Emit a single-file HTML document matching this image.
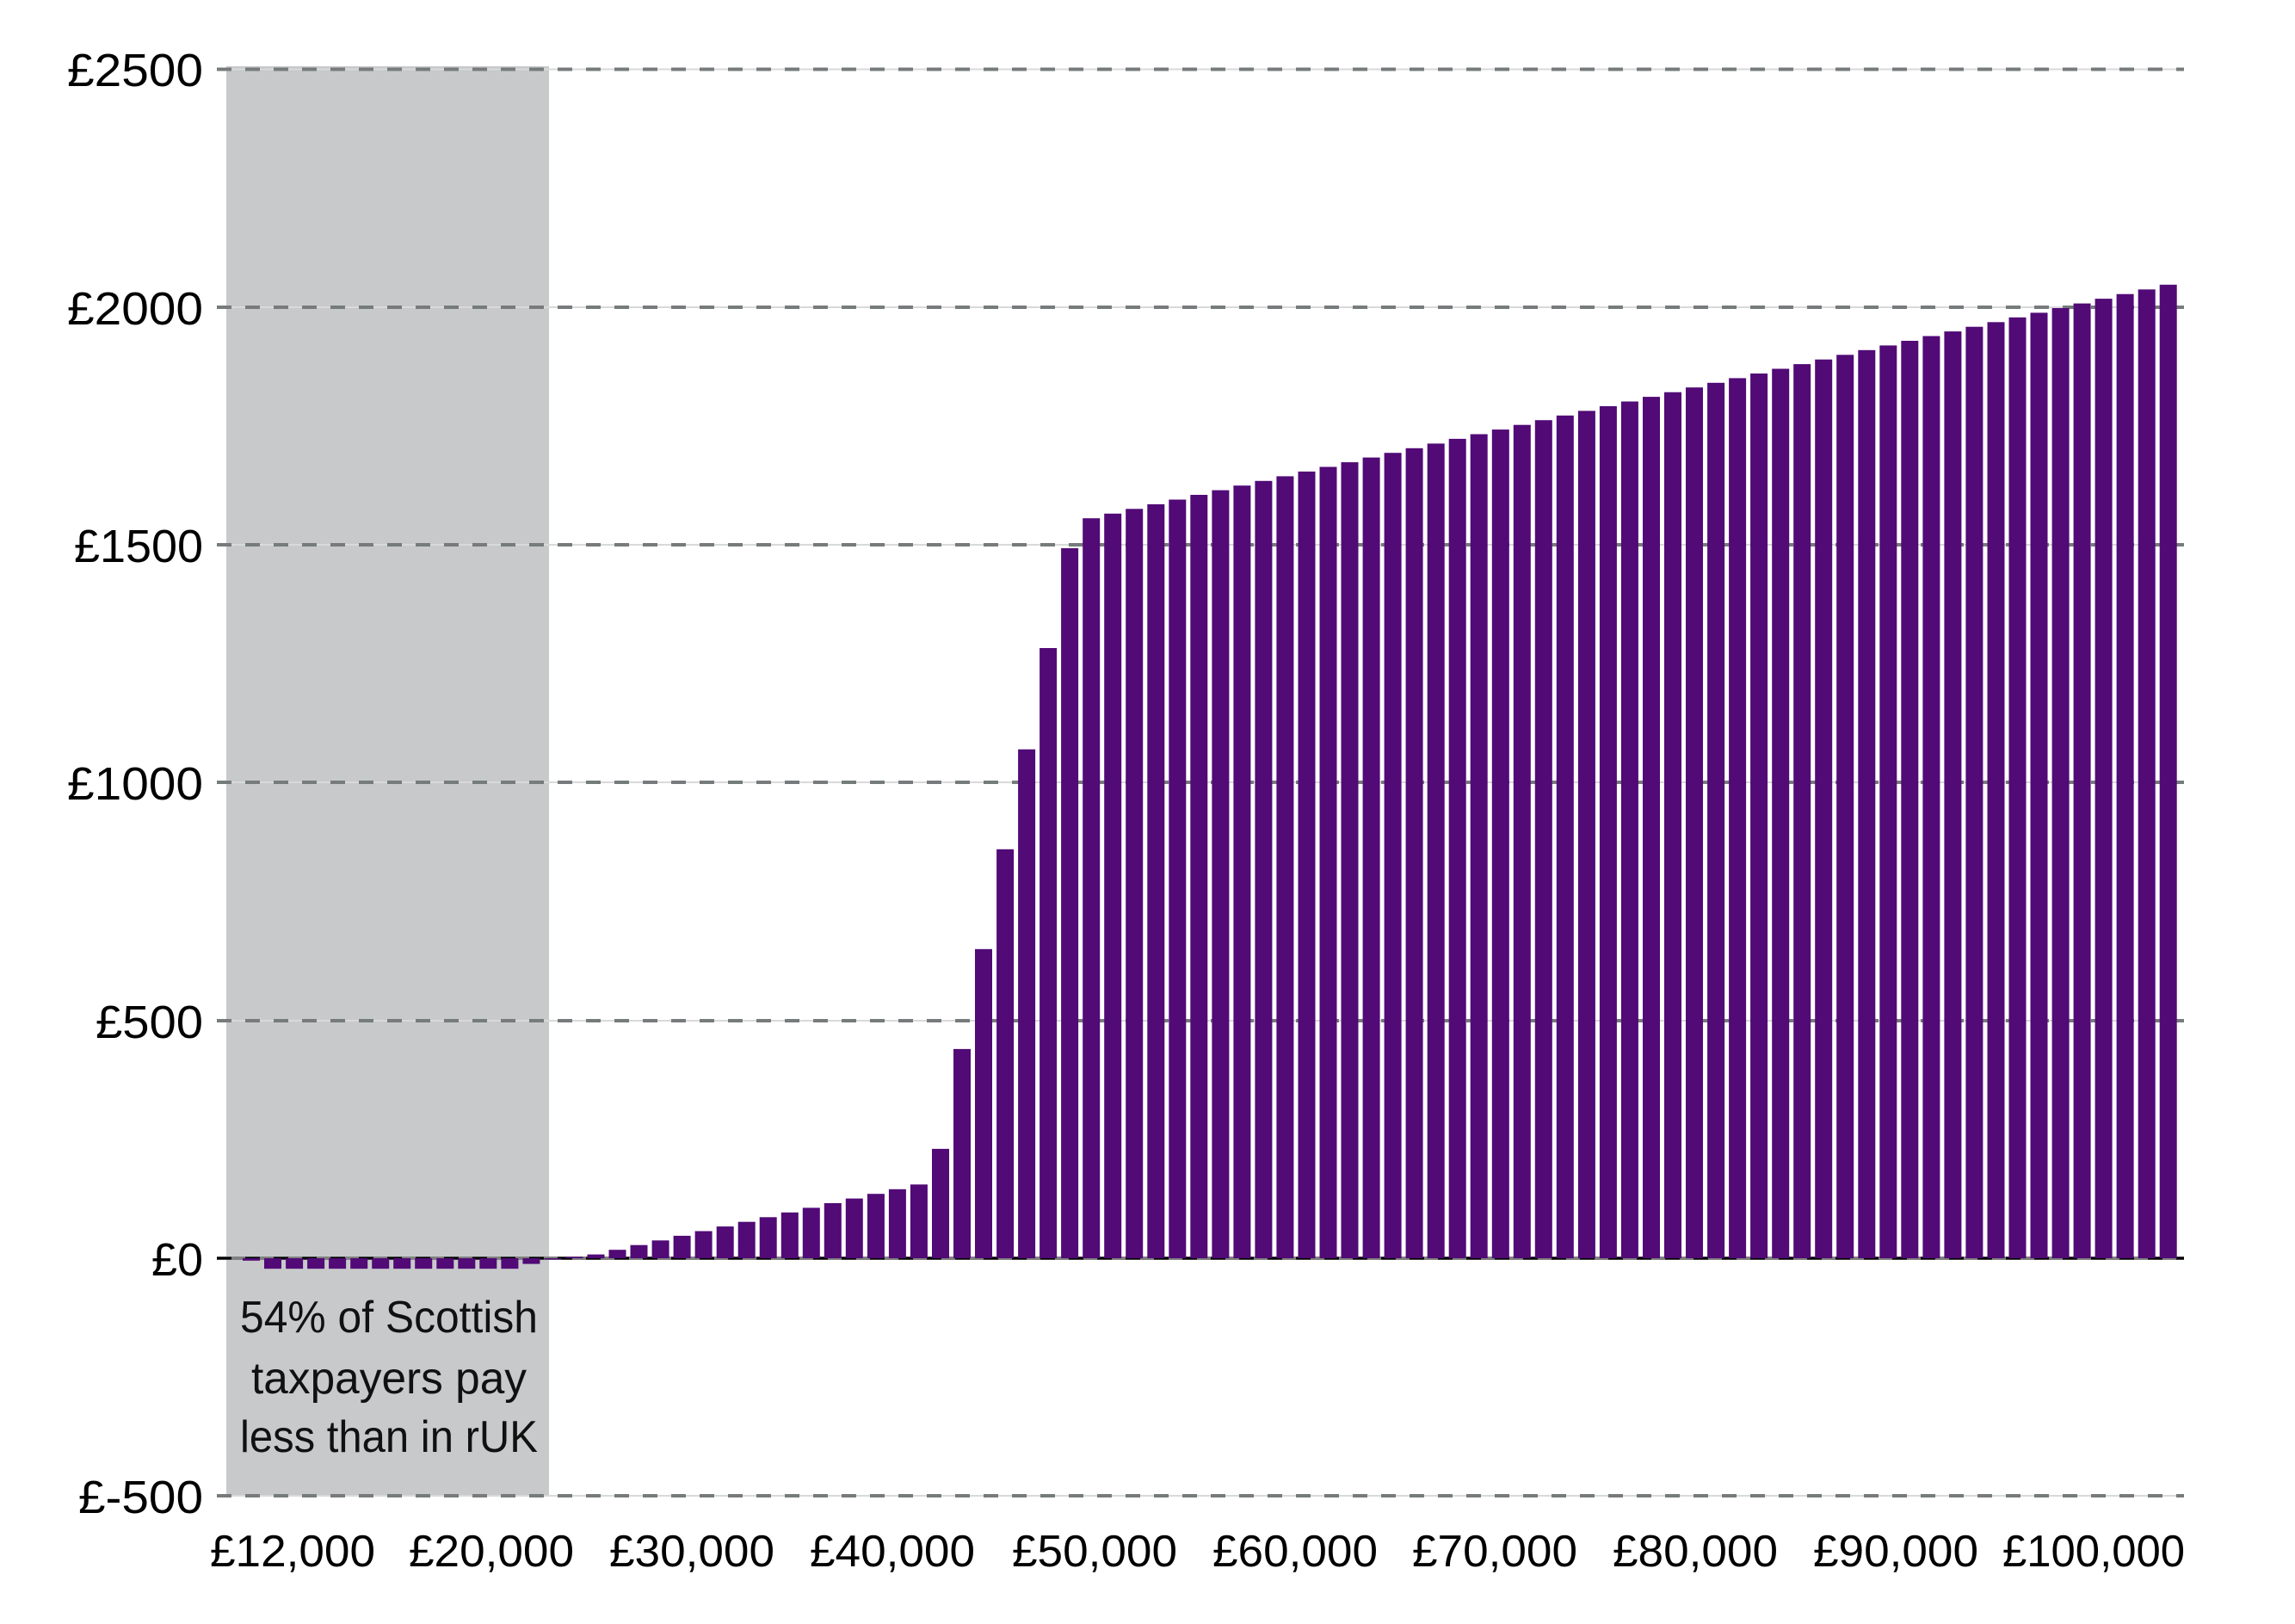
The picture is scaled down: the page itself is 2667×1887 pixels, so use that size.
<!DOCTYPE html>
<html><head><meta charset="utf-8"><style>html,body{margin:0;padding:0;background:#fff}svg{display:block}</style></head>
<body>
<svg xmlns="http://www.w3.org/2000/svg" width="2667" height="1887" viewBox="0 0 2667 1887">
<rect width="2667" height="1887" fill="#fff"/>
<rect x="263" y="77" width="375" height="1660" fill="#c8c9cb"/>
<g stroke="#d9d9d9" stroke-width="2">
<line x1="252" x2="2538" y1="80.5" y2="80.5"/>
<line x1="252" x2="2538" y1="357" y2="357"/>
<line x1="252" x2="2538" y1="633" y2="633"/>
<line x1="252" x2="2538" y1="909" y2="909"/>
<line x1="252" x2="2538" y1="1186" y2="1186"/>
<line x1="252" x2="2538" y1="1738" y2="1738"/>
</g>
<g stroke="#767b7c" stroke-width="4" stroke-dasharray="17 16">
<line x1="252" x2="2538" y1="80.5" y2="80.5"/>
<line x1="252" x2="2538" y1="357" y2="357"/>
<line x1="252" x2="2538" y1="633" y2="633"/>
<line x1="252" x2="2538" y1="909" y2="909"/>
<line x1="252" x2="2538" y1="1186" y2="1186"/>
<line x1="252" x2="2538" y1="1738" y2="1738"/>
</g>
<line x1="252" x2="2538" y1="1462" y2="1462" stroke="#808080" stroke-width="4"/>
<line x1="252" x2="2538" y1="1462" y2="1462" stroke="#000" stroke-width="3" stroke-dasharray="17 16"/>
<g fill="#510a76">
<rect x="282" y="1462" width="20" height="2.8"/>
<rect x="307" y="1462" width="20" height="12.2"/>
<rect x="332.1" y="1462" width="20" height="12.2"/>
<rect x="357.1" y="1462" width="20" height="12.2"/>
<rect x="382.1" y="1462" width="20" height="12.2"/>
<rect x="407.2" y="1462" width="20" height="12.2"/>
<rect x="432.2" y="1462" width="20" height="12.2"/>
<rect x="457.2" y="1462" width="20" height="12.2"/>
<rect x="482.2" y="1462" width="20" height="12.2"/>
<rect x="507.3" y="1462" width="20" height="12.2"/>
<rect x="532.3" y="1462" width="20" height="12.2"/>
<rect x="557.3" y="1462" width="20" height="12.2"/>
<rect x="582.4" y="1462" width="20" height="12.2"/>
<rect x="607.4" y="1462" width="20" height="6.6"/>
<rect x="632.4" y="1462" width="20" height="1.5"/>
<rect x="657.5" y="1460.3" width="20" height="1.7"/>
<rect x="682.5" y="1457.6" width="20" height="4.4"/>
<rect x="707.5" y="1452.2" width="20" height="9.8"/>
<rect x="732.5" y="1446.7" width="20" height="15.3"/>
<rect x="757.6" y="1441.3" width="20" height="20.7"/>
<rect x="782.6" y="1435.9" width="20" height="26.1"/>
<rect x="807.6" y="1430.5" width="20" height="31.5"/>
<rect x="832.7" y="1425.1" width="20" height="36.9"/>
<rect x="857.7" y="1419.7" width="20" height="42.3"/>
<rect x="882.7" y="1414.3" width="20" height="47.7"/>
<rect x="907.8" y="1408.8" width="20" height="53.2"/>
<rect x="932.8" y="1403.4" width="20" height="58.6"/>
<rect x="957.8" y="1398" width="20" height="64"/>
<rect x="982.8" y="1392.6" width="20" height="69.4"/>
<rect x="1007.9" y="1387.2" width="20" height="74.8"/>
<rect x="1032.9" y="1381.8" width="20" height="80.2"/>
<rect x="1057.9" y="1376.3" width="20" height="85.7"/>
<rect x="1083" y="1334.9" width="20" height="127.1"/>
<rect x="1108" y="1218.9" width="20" height="243.1"/>
<rect x="1133" y="1102.8" width="20" height="359.2"/>
<rect x="1158.1" y="986.8" width="20" height="475.2"/>
<rect x="1183.1" y="870.7" width="20" height="591.3"/>
<rect x="1208.1" y="753" width="20" height="709"/>
<rect x="1233.1" y="637" width="20" height="825"/>
<rect x="1258.2" y="602.2" width="20" height="859.8"/>
<rect x="1283.2" y="596.8" width="20" height="865.2"/>
<rect x="1308.2" y="591.3" width="20" height="870.7"/>
<rect x="1333.3" y="585.9" width="20" height="876.1"/>
<rect x="1358.3" y="580.5" width="20" height="881.5"/>
<rect x="1383.3" y="575" width="20" height="887"/>
<rect x="1408.4" y="569.6" width="20" height="892.4"/>
<rect x="1433.4" y="564.2" width="20" height="897.8"/>
<rect x="1458.4" y="558.8" width="20" height="903.2"/>
<rect x="1483.4" y="553.4" width="20" height="908.6"/>
<rect x="1508.5" y="547.9" width="20" height="914.1"/>
<rect x="1533.5" y="542.5" width="20" height="919.5"/>
<rect x="1558.5" y="537.1" width="20" height="924.9"/>
<rect x="1583.6" y="531.6" width="20" height="930.4"/>
<rect x="1608.6" y="526.2" width="20" height="935.8"/>
<rect x="1633.6" y="520.8" width="20" height="941.2"/>
<rect x="1658.7" y="515.4" width="20" height="946.6"/>
<rect x="1683.7" y="509.9" width="20" height="952.1"/>
<rect x="1708.7" y="504.5" width="20" height="957.5"/>
<rect x="1733.8" y="499.1" width="20" height="962.9"/>
<rect x="1758.8" y="493.7" width="20" height="968.3"/>
<rect x="1783.8" y="488.2" width="20" height="973.8"/>
<rect x="1808.8" y="482.8" width="20" height="979.2"/>
<rect x="1833.9" y="477.4" width="20" height="984.6"/>
<rect x="1858.9" y="472" width="20" height="990"/>
<rect x="1883.9" y="466.5" width="20" height="995.5"/>
<rect x="1909" y="461.1" width="20" height="1000.9"/>
<rect x="1934" y="455.7" width="20" height="1006.3"/>
<rect x="1959" y="450.2" width="20" height="1011.8"/>
<rect x="1984.1" y="444.8" width="20" height="1017.2"/>
<rect x="2009.1" y="439.4" width="20" height="1022.6"/>
<rect x="2034.1" y="434" width="20" height="1028"/>
<rect x="2059.2" y="428.5" width="20" height="1033.5"/>
<rect x="2084.2" y="423.1" width="20" height="1038.9"/>
<rect x="2109.2" y="417.7" width="20" height="1044.3"/>
<rect x="2134.2" y="412.3" width="20" height="1049.7"/>
<rect x="2159.3" y="406.8" width="20" height="1055.2"/>
<rect x="2184.3" y="401.4" width="20" height="1060.6"/>
<rect x="2209.3" y="396" width="20" height="1066"/>
<rect x="2234.4" y="390.5" width="20" height="1071.5"/>
<rect x="2259.4" y="385.1" width="20" height="1076.9"/>
<rect x="2284.4" y="379.7" width="20" height="1082.3"/>
<rect x="2309.5" y="374.3" width="20" height="1087.7"/>
<rect x="2334.5" y="368.8" width="20" height="1093.2"/>
<rect x="2359.5" y="363.4" width="20" height="1098.6"/>
<rect x="2384.6" y="358" width="20" height="1104"/>
<rect x="2409.6" y="352.6" width="20" height="1109.4"/>
<rect x="2434.6" y="347.1" width="20" height="1114.9"/>
<rect x="2459.6" y="341.7" width="20" height="1120.3"/>
<rect x="2484.7" y="336.3" width="20" height="1125.7"/>
<rect x="2509.7" y="330.8" width="20" height="1131.2"/>
</g>
<g font-family="Liberation Sans, sans-serif" font-size="54" fill="#000" text-anchor="end">
<text x="236" y="100" textLength="158" lengthAdjust="spacingAndGlyphs">£2500</text>
<text x="236" y="377" textLength="158" lengthAdjust="spacingAndGlyphs">£2000</text>
<text x="236" y="653" textLength="150" lengthAdjust="spacingAndGlyphs">£1500</text>
<text x="236" y="929" textLength="158" lengthAdjust="spacingAndGlyphs">£1000</text>
<text x="236" y="1206" textLength="125" lengthAdjust="spacingAndGlyphs">£500</text>
<text x="236" y="1482" textLength="60" lengthAdjust="spacingAndGlyphs">£0</text>
<text x="236" y="1758" textLength="145" lengthAdjust="spacingAndGlyphs">£-500</text>
</g>
<g font-family="Liberation Sans, sans-serif" font-size="52" fill="#000" text-anchor="middle">
<text x="340" y="1820" textLength="192" lengthAdjust="spacingAndGlyphs">£12,000</text>
<text x="571" y="1820" textLength="192" lengthAdjust="spacingAndGlyphs">£20,000</text>
<text x="804" y="1820" textLength="192" lengthAdjust="spacingAndGlyphs">£30,000</text>
<text x="1037" y="1820" textLength="192" lengthAdjust="spacingAndGlyphs">£40,000</text>
<text x="1272" y="1820" textLength="192" lengthAdjust="spacingAndGlyphs">£50,000</text>
<text x="1505" y="1820" textLength="192" lengthAdjust="spacingAndGlyphs">£60,000</text>
<text x="1737" y="1820" textLength="192" lengthAdjust="spacingAndGlyphs">£70,000</text>
<text x="1970" y="1820" textLength="192" lengthAdjust="spacingAndGlyphs">£80,000</text>
<text x="2203" y="1820" textLength="192" lengthAdjust="spacingAndGlyphs">£90,000</text>
<text x="2433" y="1820" textLength="212" lengthAdjust="spacingAndGlyphs">£100,000</text>
</g>
<g font-family="Liberation Sans, sans-serif" font-size="52" fill="#111" text-anchor="middle">
<text x="452" y="1548" textLength="346" lengthAdjust="spacingAndGlyphs">54% of Scottish</text>
<text x="452" y="1619" textLength="320" lengthAdjust="spacingAndGlyphs">taxpayers pay</text>
<text x="452" y="1687" textLength="346" lengthAdjust="spacingAndGlyphs">less than in rUK</text>
</g>
</svg>
</body></html>
